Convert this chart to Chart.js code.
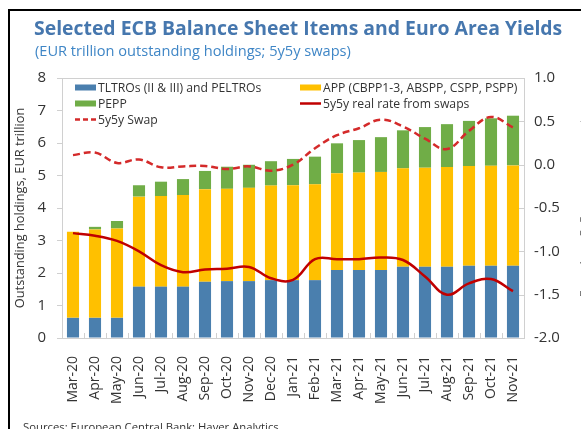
<!DOCTYPE html>
<html>
<head>
<meta charset="utf-8">
<script src="https://cdn.jsdelivr.net/npm/chart.js@4.4.1/dist/chart.umd.min.js"></script>
<style>
  html, body { margin: 0; padding: 0; background: #fff; overflow: hidden; }
  #wrap { position: relative; width: 581px; height: 429px; }
  #frame { position: absolute; left: 8px; top: 9px; width: 620px; height: 460px; border: 2px solid #000; }
  #chart { position: absolute; left: 0; top: 0; }
  .txt { position: absolute; font-family: "Open Sans", sans-serif; white-space: nowrap; }
  #title { left: 34px; top: 14px; font-size: 19.4px; font-weight: bold; color: #4677AE; }
  #subtitle { left: 35px; top: 40px; font-size: 14.6px; color: #3F86C6; }
  #source { left: 23px; top: 419px; font-size: 11.3px; color: #333; }
</style>
</head>
<body>
<div id="wrap">
  <div id="frame"></div>
  <canvas id="chart" width="581" height="429"></canvas>
  <div class="txt" id="title">Selected ECB Balance Sheet Items and Euro Area Yields</div>
  <div class="txt" id="subtitle">(EUR trillion outstanding holdings; 5y5y swaps)</div>
  <div class="txt" id="source">Sources: European Central Bank; Haver Analytics.</div>
</div>
<script>
// 月份
const months = ['Mar-20', 'Apr-20', 'May-20', 'Jun-20', 'Jul-20', 'Aug-20', 'Sep-20', 'Oct-20', 'Nov-20', 'Dec-20', 'Jan-21',
                'Feb-21', 'Mar-21', 'Apr-21', 'May-21', 'Jun-21', 'Jul-21', 'Aug-21', 'Sep-21', 'Oct-21', 'Nov-21'];

// EUR trillion
const tltro = [0.62, 0.62, 0.62, 1.58, 1.58, 1.58, 1.73, 1.75, 1.75, 1.78, 1.78, 1.78, 2.09, 2.09, 2.09, 2.19, 2.19, 2.19, 2.22, 2.22, 2.22];
const app   = [2.65, 2.72, 2.75, 2.77, 2.79, 2.82, 2.85, 2.84, 2.87, 2.91, 2.92, 2.95, 2.98, 3.00, 3.02, 3.03, 3.05, 3.07, 3.07, 3.08, 3.09];
const pepp  = [0.00, 0.08, 0.23, 0.35, 0.44, 0.49, 0.56, 0.68, 0.71, 0.75, 0.81, 0.85, 0.92, 1.00, 1.07, 1.17, 1.25, 1.32, 1.39, 1.46, 1.53];

// percent, right axis
const swap5y5y = [0.11, 0.14, 0.02, 0.06, -0.03, -0.02, -0.015, -0.05, -0.02, -0.07, 0.00, 0.19, 0.34, 0.42, 0.52, 0.44, 0.30, 0.18, 0.39, 0.55, 0.43];
const realRate = [-0.79, -0.82, -0.88, -1.00, -1.16, -1.24, -1.21, -1.20, -1.18, -1.31, -1.33, -1.09, -1.09, -1.09, -1.07, -1.10, -1.29, -1.50, -1.37, -1.32, -1.46];

const leftTicks = [0, 1, 2, 3, 4, 5, 6, 7, 8];
const rightTicks = [-2.0, -1.5, -1.0, -0.5, 0.0, 0.5, 1.0];

const C = {
    blue: '#4A7FAE',
    yellow: '#FFC000',
    green: '#70AD47',
    red: '#C00000',
    redDash: '#D42A2A',
    axis: '#D0D0D0',
    text: '#333333'
};
const FONT = '"Open Sans", sans-serif';

// 图例 + 内侧刻度 + 右轴标题
const extras = {
    id: 'extras',
    afterDraw(chart) {
        const ctx = chart.ctx;
        const a = chart.chartArea;
        const y1 = chart.scales.y1;
        ctx.save();
        ctx.strokeStyle = C.axis;
        ctx.lineWidth = 1;
        ctx.beginPath();
        ctx.moveTo(a.left, a.top + 0.5);
        ctx.lineTo(a.right, a.top + 0.5);
        const step = a.width / months.length;
        for (let i = 1; i < months.length; i++) {
            const px = Math.round(a.left + i * step) + 0.5;
            ctx.moveTo(px, a.bottom);
            ctx.lineTo(px, a.bottom - 5);
        }
        rightTicks.forEach(v => {
            const py = Math.round(y1.getPixelForValue(v)) + 0.5;
            ctx.moveTo(a.right - 5, py);
            ctx.lineTo(a.right, py);
        });
        ctx.stroke();

        // legend
        ctx.font = '12.2px ' + FONT;
        ctx.fillStyle = C.text;
        ctx.textBaseline = 'middle';
        const items = [
            { col: 0, row: 0, kind: 'box', color: C.blue, label: 'TLTROs (II & III) and PELTROs' },
            { col: 1, row: 0, kind: 'box', color: C.yellow, label: 'APP (CBPP1-3, ABSPP, CSPP, PSPP)' },
            { col: 0, row: 1, kind: 'box', color: C.green, label: 'PEPP' },
            { col: 1, row: 1, kind: 'line', color: C.red, label: '5y5y real rate from swaps' },
            { col: 0, row: 2, kind: 'dash', color: C.redDash, label: '5y5y Swap' }
        ];
        items.forEach(it => {
            const lx = it.col === 0 ? 75 : 300;
            const ly = 87.5 + it.row * 16;
            if (it.kind === 'box') {
                ctx.fillStyle = it.color;
                ctx.fillRect(lx, ly - 3, 21, 6);
            } else {
                ctx.strokeStyle = it.color;
                ctx.lineWidth = 2.5;
                ctx.setLineDash(it.kind === 'dash' ? [5, 3] : []);
                ctx.beginPath();
                ctx.moveTo(lx, ly);
                ctx.lineTo(lx + 21, ly);
                ctx.stroke();
                ctx.setLineDash([]);
            }
            ctx.fillStyle = C.text;
            ctx.fillText(it.label, lx + 23, ly + 1);
        });

        // right axis title, clipped by the window edge
        ctx.translate(585, (a.top + a.bottom) / 2);
        ctx.rotate(-Math.PI / 2);
        ctx.textAlign = 'center';
        ctx.fillStyle = '#777';
        ctx.font = '12.5px ' + FONT;
        ctx.fillText('Euro Area 5y5y swaps, percent', 0, 0);
        ctx.restore();
    }
};

new Chart(document.getElementById('chart'), {
    type: 'bar',
    data: {
        labels: months,
        datasets: [
            { label: '5y5y Swap', type: 'line', data: swap5y5y, yAxisID: 'y1', order: -2,
              borderColor: C.redDash, borderWidth: 2.5, borderDash: [7, 4], pointRadius: 0, tension: 0.4, fill: false },
            { label: '5y5y real rate from swaps', type: 'line', data: realRate, yAxisID: 'y1', order: -1,
              borderColor: C.red, borderWidth: 2.5, pointRadius: 0, tension: 0.4, fill: false },
            { label: 'TLTROs (II & III) and PELTROs', data: tltro, backgroundColor: C.blue, yAxisID: 'y',
              barPercentage: 0.55, categoryPercentage: 1 },
            { label: 'APP (CBPP1-3, ABSPP, CSPP, PSPP)', data: app, backgroundColor: C.yellow, yAxisID: 'y',
              barPercentage: 0.55, categoryPercentage: 1 },
            { label: 'PEPP', data: pepp, backgroundColor: C.green, yAxisID: 'y',
              barPercentage: 0.55, categoryPercentage: 1 }
        ]
    },
    options: {
        responsive: false,
        animation: false,
        layout: { padding: { left: 0, right: 0, top: 78, bottom: 0 } },
        plugins: {
            legend: { display: false },
            tooltip: { enabled: false }
        },
        scales: {
            x: {
                stacked: true,
                grid: { display: false },
                border: { display: true, color: C.axis },
                ticks: {
                    color: C.text,
                    font: { family: FONT, size: 14 },
                    minRotation: 90,
                    maxRotation: 90,
                    padding: 10,
                    autoSkip: false
                },
                afterFit(s) { s.height = 91; }
            },
            y: {
                stacked: true,
                position: 'left',
                min: 0,
                max: 8,
                afterBuildTicks(s) { s.ticks = leftTicks.map(v => ({ value: v })); },
                grid: { drawOnChartArea: false, drawTicks: true, tickLength: 5, color: C.axis },
                border: { display: true, color: C.axis },
                ticks: { color: C.text, font: { family: FONT, size: 15 }, padding: 11 },
                title: {
                    display: true,
                    text: 'Outstanding holdings, EUR trillion',
                    color: C.text,
                    font: { family: FONT, size: 12.8 },
                    padding: { top: 13, bottom: 0 }
                },
                afterFit(s) { s.width = 62; }
            },
            y1: {
                position: 'right',
                min: -2,
                max: 1,
                afterBuildTicks(s) { s.ticks = rightTicks.map(v => ({ value: v })); },
                grid: { drawOnChartArea: false, drawTicks: false },
                border: { display: true, color: C.axis },
                ticks: {
                    color: C.text,
                    font: { family: FONT, size: 15 },
                    padding: 10,
                    callback: v => Number(v).toFixed(1)
                },
                afterFit(s) { s.width = 57; }
            }
        }
    },
    plugins: [extras]
});
</script>
</body>
</html>
